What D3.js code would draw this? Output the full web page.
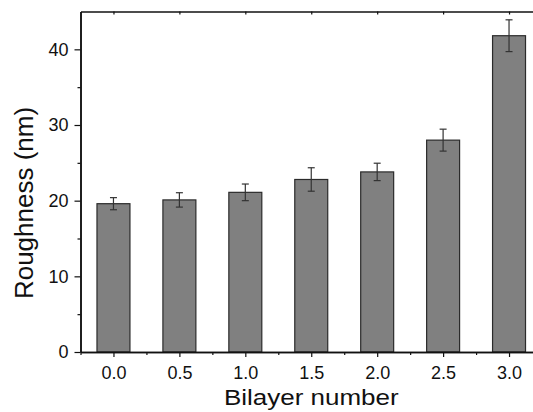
<!DOCTYPE html>
<html>
<head>
<meta charset="utf-8">
<script src="https://cdn.jsdelivr.net/npm/d3@7"></script>
<style>
  body { margin: 0; background: #fff; }
  svg { display: block; font-family: "Liberation Sans", Arial, sans-serif; }
</style>
</head>
<body>
<div id="chart"></div>
<script>
// bilayer number vs roughness
const bilayers = [0.0, 0.5, 1.0, 1.5, 2.0, 2.5, 3.0];
const roughness = [19.6, 20.1, 21.1, 22.8, 23.8, 28.0, 41.8];
const roughnessErr = [0.8, 0.95, 1.1, 1.55, 1.15, 1.45, 2.1];
const xTicks = [0.0, 0.5, 1.0, 1.5, 2.0, 2.5, 3.0];
const yTicks = [0, 10, 20, 30, 40];

const data = bilayers.map((b, i) => ({x: b, y: roughness[i], err: roughnessErr[i]}));

const margin = {top: 11.5, right: -9, bottom: 60, left: 80.5};
const W = 533, H = 412;
const width = W - margin.left - margin.right;
const height = H - margin.top - margin.bottom;

const svg = d3.select("#chart").append("svg")
    .attr("width", W)
    .attr("height", H);

const g = svg.append("g")
    .attr("transform", "translate(" + margin.left + "," + margin.top + ")");

const x = d3.scaleLinear().domain([-0.25, 3.25]).range([0, width]);
const y = d3.scaleLinear().domain([0, 45]).range([height, 0]);
const barW = x(0.25) - x(0);

// bars
g.selectAll(".bar")
    .data(data)
    .enter().append("rect")
    .attr("class", "bar")
    .attr("x", d => x(d.x) - barW / 2)
    .attr("y", d => y(d.y))
    .attr("width", barW)
    .attr("height", d => y(0) - y(d.y))
    .attr("fill", "#808080")
    .attr("stroke", "#2b2b2b")
    .attr("stroke-width", 1.2);

// error bars
const eb = g.selectAll(".err")
    .data(data)
    .enter().append("g")
    .attr("class", "err")
    .attr("stroke", "#333")
    .attr("stroke-width", 1.2);

eb.append("line")
    .attr("x1", d => x(d.x)).attr("x2", d => x(d.x))
    .attr("y1", d => y(d.y + d.err)).attr("y2", d => y(d.y - d.err));
eb.append("line")
    .attr("x1", d => x(d.x) - 3.5).attr("x2", d => x(d.x) + 3.5)
    .attr("y1", d => y(d.y + d.err)).attr("y2", d => y(d.y + d.err));
eb.append("line")
    .attr("x1", d => x(d.x) - 3.5).attr("x2", d => x(d.x) + 3.5)
    .attr("y1", d => y(d.y - d.err)).attr("y2", d => y(d.y - d.err));

// minor ticks
const xMinor = d3.range(-0.25, 3.26, 0.5);
const yMinor = [5, 15, 25, 35];

const xAxis = g.append("g")
    .attr("transform", "translate(0," + height + ")")
    .call(d3.axisBottom(x).tickValues(xTicks).tickFormat(d3.format(".1f")).tickSize(5).tickSizeOuter(0));
g.append("g")
    .attr("transform", "translate(0," + height + ")")
    .call(d3.axisBottom(x).tickValues(xMinor).tickFormat("").tickSize(3).tickSizeOuter(0));

const yAxis = g.append("g")
    .call(d3.axisLeft(y).tickValues(yTicks).tickSize(6).tickSizeOuter(0));
g.append("g")
    .call(d3.axisLeft(y).tickValues(yMinor).tickFormat("").tickSize(3).tickSizeOuter(0));

// top frame line with small inward ticks
g.append("g")
    .call(d3.axisTop(x).tickValues(xTicks).tickFormat("").tickSize(-3).tickSizeOuter(0));

g.selectAll(".domain").attr("stroke", "#111").attr("stroke-width", 1.5);
g.selectAll(".tick line").attr("stroke", "#111").attr("stroke-width", 1.2);
g.selectAll(".tick text")
    .attr("font-size", 18)
    .attr("fill", "#111")
    .attr("font-family", "Liberation Sans, Arial, sans-serif");
xAxis.selectAll(".tick text").attr("y", 0).attr("dy", 0)
    .attr("transform", "translate(0,26.5)");
yAxis.selectAll(".tick text").attr("x", -12);

// axis titles
svg.append("text")
    .attr("transform", "translate(" + (margin.left + width / 2) + ",405) scale(1,0.86)")
    .attr("text-anchor", "middle")
    .attr("font-size", 26)
    .attr("fill", "#111")
    .text("Bilayer number");

svg.append("text")
    .attr("transform", "translate(33,203) rotate(-90)")
    .attr("text-anchor", "middle")
    .attr("font-size", 26)
    .attr("fill", "#111")
    .text("Roughness (nm)");
</script>
</body>
</html>
